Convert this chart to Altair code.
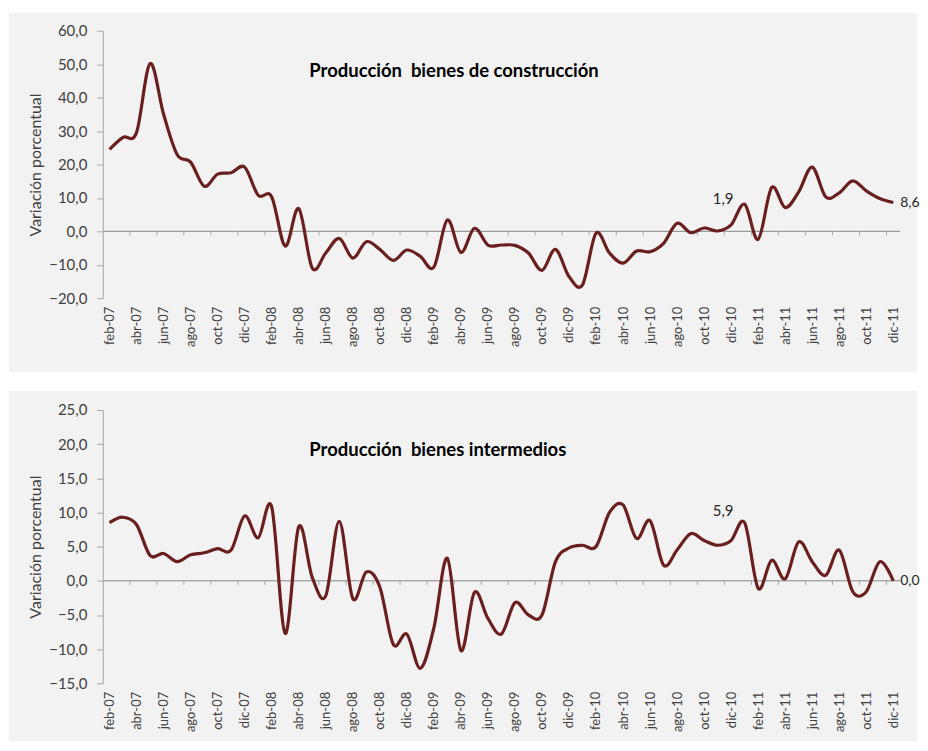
import altair as alt
import pandas as pd

abrev = ["ene", "feb", "mar", "abr", "may", "jun", "jul", "ago", "sep", "oct", "nov", "dic"]
meses = [f"{m}-{a:02d}" for a in range(7, 12) for m in abrev][1:]  # feb-07 .. dic-11

construccion = [24.5, 28.1, 29.6, 50.2, 35.0, 23.0, 20.7, 13.5, 17.1, 17.5,
                19.2, 10.8, 10.3, -4.4, 6.8, -11.0, -6.5, -2.1, -8.0, -3.1,
                -5.4, -8.7, -5.6, -7.5, -10.7, 3.4, -6.3, 0.9, -4.1, -4.1,
                -4.2, -6.5, -11.7, -5.4, -13.5, -16.0, -0.6, -6.5, -9.5, -5.9,
                -6.1, -3.6, 2.4, -0.4, 1.0, 0.1, 1.9, 8.1, -2.4, 13.1,
                7.1, 11.8, 19.2, 10.3, 11.5, 15.1, 12.1, 9.8, 8.6]

intermedios = [8.5, 9.3, 8.2, 3.7, 4.0, 2.8, 3.8, 4.1, 4.7, 4.5,
               9.5, 6.3, 10.8, -7.7, 7.9, 0.5, -2.2, 8.7, -2.6, 1.3,
               -0.9, -9.3, -7.8, -12.8, -6.9, 3.3, -10.2, -1.7, -5.5, -7.8,
               -3.2, -5.0, -5.0, 2.8, 4.8, 5.2, 5.0, 10.0, 11.1, 6.2,
               8.8, 2.3, 4.5, 6.9, 5.9, 5.2, 5.9, 8.5, -1.1, 3.0,
               0.3, 5.7, 2.8, 0.8, 4.5, -1.6, -1.6, 2.8, 0.0]

assert len(meses) == len(construccion) == len(intermedios) == 59

titulo_c = "Producción\u00a0 bienes de construcción"
titulo_i = "Producción\u00a0 bienes intermedios"
eje_y = "Variación porcentual"

LINE = "#6a1f1f"
FONT = "Lato"
GRAY = "#a6a6a6"
TXT = "#404040"
W = 799
n = len(meses)

label_js = "[" + ",".join(f"'{m}'" for m in meses) + "]"
label_vals = list(range(0, n, 2))
tick_pos = [t - 0.5 for t in range(2, n + 1, 2)]
fmt = "replace(format(datum.value, '.1f'), '.', ',')"


def panel(values, ymin, ymax, ystep, height, title, tick_len, lab_dy, rect_y, rect_y2):
    df = pd.DataFrame({"i": list(range(n)), "mes": meses, "v": values})
    SX = alt.Scale(domain=[-0.5, n - 0.5], nice=False, zero=False)
    SY = alt.Scale(domain=[ymin, ymax], nice=False, zero=False)
    AX = alt.Axis(values=label_vals, labelExpr=f"{label_js}[datum.value]",
                  labelAngle=270, labelFontSize=13, labelColor=TXT, labelFont=FONT,
                  domain=False, ticks=False, grid=False, labelPadding=8, title=None,
                  labelOverlap=False, labelFlush=False, zindex=2)
    AY = alt.Axis(values=list(range(ymin, ymax + 1, ystep)), labelExpr=fmt,
                  title=eje_y, titleFont=FONT, titleFontSize=16, titleFontWeight="normal",
                  titleColor=TXT, labelFont=FONT, labelFontSize=15, labelColor=TXT,
                  domainColor=GRAY, tickColor=GRAY, tickSize=6, grid=False,
                  labelPadding=10, titlePadding=5, zindex=2)

    bg = alt.Chart(alt.Data(values=[{}])).mark_rect(color="#f2f2f2").encode(
        x=alt.value(-94), x2=alt.value(W + 17), y=alt.value(rect_y), y2=alt.value(height + rect_y2))

    zero = alt.Chart(pd.DataFrame({"x0": [-0.5], "x1": [n - 0.5], "y0": [0]})).mark_rule(
        color="#868686", strokeWidth=1).encode(
        x=alt.X("x0:Q", scale=SX, axis=AX), x2="x1", y=alt.Y("y0:Q", scale=SY, axis=AY))

    ticks = alt.Chart(pd.DataFrame({"p": tick_pos, "y0": 0, "y1": -tick_len})).mark_rule(
        color=GRAY, strokeWidth=1).encode(
        x=alt.X("p:Q", scale=SX, axis=AX), y=alt.Y("y0:Q", scale=SY, axis=AY), y2="y1")

    line = alt.Chart(df).mark_line(color=LINE, strokeWidth=3.2, interpolate="cardinal").encode(
        x=alt.X("i:Q", scale=SX, axis=AX), y=alt.Y("v:Q", scale=SY, axis=AY))

    lab_mid = alt.Chart(df).transform_filter(alt.datum.i == 46).transform_calculate(
        t="replace(format(datum.v, '.1f'), '.', ',')").mark_text(
        dx=-8, dy=lab_dy, font=FONT, fontSize=15, color="#262626").encode(
        x=alt.X("i:Q", scale=SX, axis=AX), y=alt.Y("v:Q", scale=SY, axis=AY), text="t:N")

    lab_end = alt.Chart(df).transform_filter(alt.datum.i == n - 1).transform_calculate(
        t="replace(format(datum.v, '.1f'), '.', ',')").mark_text(
        align="left", baseline="middle", dx=7, font=FONT, fontSize=14, color="#262626").encode(
        x=alt.X("i:Q", scale=SX, axis=AX), y=alt.Y("v:Q", scale=SY, axis=AY), text="t:N")

    ttl = alt.Chart(alt.Data(values=[{"t": title}])).mark_text(
        align="left", baseline="middle", font=FONT, fontSize=18.5, fontWeight="bold",
        color="black").encode(x=alt.value(207), y=alt.value(40), text="t:N")

    return alt.layer(bg, zero, ticks, line, lab_mid, lab_end, ttl).properties(
        width=W, height=height)


top = panel(construccion, -20, 60, 10, 268, titulo_c, 1.2, -26, -18, 74)
bottom = panel(intermedios, -15, 25, 5, 274, titulo_i, 0.6, -30, -19, 58)

chart = alt.vconcat(top, bottom, spacing=19).properties(
    padding={"left": 1, "top": 4, "right": 0, "bottom": 0}, background="white"
).configure_view(stroke=None)

chart.save("out.html", embed_options={"renderer": "svg", "actions": False})
